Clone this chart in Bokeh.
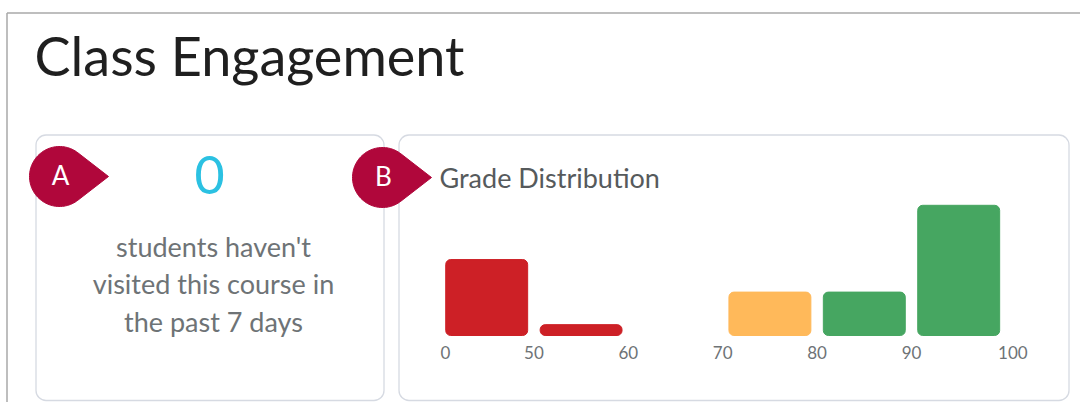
import numpy as np
from bokeh.plotting import figure
from bokeh.models import Range1d, ColumnDataSource
from bokeh.core.properties import value
from bokeh.embed import file_html
from bokeh.resources import INLINE

# ---------------- data ----------------
title_text = "Class Engagement"
inactive_students = 0
inactive_lines = ["students haven't", "visited this course in", "the past 7 days"]
chart_title = "Grade Distribution"
bin_labels = ["0", "50", "60", "70", "80", "90", "100"]
bin_counts = [7, 1, 0, 4, 4, 12]
bin_colors = ["#cd2026", "#cd2026", "#cd2026", "#ffb95a", "#46a661", "#46a661"]
badge_letters = ["A", "B"]

# ---------------- geometry ----------------
W, H = 1080, 402
OFF = 0              # page offset of the canvas
SLOT = 94.4          # px per bin
X0PX = 439 - OFF     # px of first bin boundary (canvas coords)
BASE = H - (335 - OFF)  # px from bottom of canvas to bar baseline
UNIT = 10.85         # px per student
BL = 0.4             # rendered baseline correction (fraction of font size)

x_start = -X0PX / SLOT
x_end = (W - X0PX) / SLOT
y_start = -BASE / UNIT
y_end = (H - BASE) / UNIT

def dx(sx):  # page x -> data x
    return (sx - OFF - X0PX) / SLOT

def dy(sy):  # page y (from top) -> data y
    return (H - (sy - OFF) - BASE) / UNIT

p = figure(width=W, height=H, x_range=Range1d(x_start, x_end), y_range=Range1d(y_start, y_end),
           output_backend="svg", toolbar_location=None, min_border=0,
           x_axis_type=None, y_axis_type=None, outline_line_color=None,
           background_fill_color="white", border_fill_color="white")
p.grid.visible = False

FONT = value("Lato")

def txt(sx, sy, s, size, color, align="left"):
    p.text(x=[dx(sx)], y=[dy(sy - BL * size)], text=[s], text_font=FONT,
           text_font_size=f"{size}px", text_color=color, text_align=align,
           text_baseline="alphabetic")

# page frame lines
p.line(x=[dx(6.5), dx(6.5)], y=[dy(12.5), dy(H + 2)], line_color="#a9a9a9", line_width=1.5)
p.line(x=[dx(6.5), dx(W + 2)], y=[dy(12.5), dy(12.5)], line_color="#a9a9a9", line_width=1.5)

# cards
p.quad(left=[dx(35.5), dx(398.5)], right=[dx(383.5), dx(1068.5)],
       top=[dy(134.5), dy(134.5)], bottom=[dy(400), dy(400)],
       fill_color="white", line_color="#d6dae2", line_width=1.3, border_radius=10)

# title
txt(34, 77, title_text, 54, "#1f1f1f")

# card A content
txt(209, 195, str(inactive_students), 52, "#2bc1e2", "center")
for i, line in enumerate(inactive_lines):
    txt(213, 257 + 37.2 * i, line, 27, "#6e7376", "center")

# card B title
txt(439, 188, chart_title, 27, "#565a5c")

# badges
r, d = 30.0, 49.0
th = np.arccos(r / d)
ang = np.linspace(th, 2 * np.pi - th, 80)
for (cx, cy), letter in zip([(59, 176), (382, 177)], badge_letters):
    px = list(cx + r * np.cos(ang)) + [cx + d]
    py = list(cy + r * np.sin(ang)) + [cy]
    p.patch(x=[dx(v) for v in px], y=[dy(v) for v in py], fill_color="#b0073b", line_color="#b0073b")
    txt(cx + 1, cy + 8.5, letter, 26, "white", "center")

# histogram bars
gap = 0.066
idx = [i for i, c in enumerate(bin_counts) if c > 0]
bars = ColumnDataSource(dict(
    left=[i + gap for i in idx],
    right=[i + 1 - gap for i in idx],
    top=[bin_counts[i] for i in idx],
    bottom=[0] * len(idx),
    color=[bin_colors[i] for i in idx],
))
p.quad(left="left", right="right", top="top", bottom="bottom", source=bars,
       fill_color="color", line_color="color", border_radius=5)

# bin boundary labels
n = len(bin_labels)
tick_size = 17
ticks = ColumnDataSource(dict(
    x=list(range(n)),
    y=[dy(359 - BL * tick_size)] * n,
    text=bin_labels,
    xo=[6 if i == 0 else (7 if i == n - 1 else 0) for i in range(n)],
))
p.text(x="x", y="y", text="text", x_offset="xo", source=ticks, text_font=FONT,
       text_font_size=f"{tick_size}px", text_color="#6e7376", text_align="center",
       text_baseline="alphabetic")

open("out.html", "w").write(file_html(p, INLINE))
